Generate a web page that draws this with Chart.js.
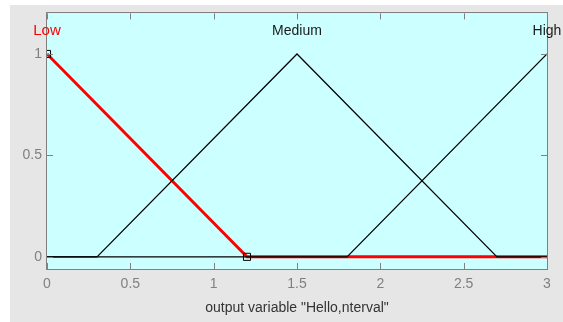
<!DOCTYPE html>
<html>
<head>
<meta charset="utf-8">
<script src="https://cdn.jsdelivr.net/npm/chart.js@4"></script>
<style>
html,body{margin:0;padding:0;background:#fff;}
#wrap{width:563px;height:322px;position:relative;}
</style>
</head>
<body>
<div id="wrap"><canvas id="c" width="563" height="322"></canvas></div>
<script>
// ---- data ----
const mfNames = ["Low", "Medium", "High"];
const mfLabelX = [0, 1.5, 3];
const lowX = [0, 1.2, 3];
const lowY = [1, 0, 0];
const medX = [0, 0.3, 1.5, 2.7, 3];
const medY = [0, 0, 1, 0, 0];
const highX = [0, 1.8, 3];
const highY = [0, 0, 1];
const xTicks = [0, 0.5, 1, 1.5, 2, 2.5, 3];
const yTicks = [0, 0.5, 1];
const xTitle = 'output variable "Hello,nterval"';

const pts = (xs, ys) => xs.map((x, i) => ({x: x, y: ys[i]}));
const FONT = "'Liberation Sans', Arial, sans-serif";

const deco = {
  id: 'deco',
  beforeDraw(chart) {
    const ctx = chart.ctx, a = chart.chartArea;
    ctx.save();
    ctx.fillStyle = '#ffffff';
    ctx.fillRect(0, 0, chart.width, chart.height);
    ctx.fillStyle = '#e6e6e6';
    ctx.fillRect(10, 5, chart.width - 10, chart.height - 5);
    ctx.fillStyle = '#ccffff';
    ctx.fillRect(a.left, a.top, a.right - a.left, a.bottom - a.top);
    ctx.restore();
  },
  afterDraw(chart) {
    const ctx = chart.ctx, a = chart.chartArea;
    const xs = chart.scales.x, ys = chart.scales.y;
    ctx.save();
    ctx.strokeStyle = '#808080';
    ctx.lineWidth = 1;
    ctx.strokeRect(Math.round(a.left) - 0.5, Math.round(a.top) - 0.5,
                   Math.round(a.right - a.left) + 1, Math.round(a.bottom - a.top) + 1);
    ctx.beginPath();
    xTicks.forEach(v => {
      const px = Math.round(xs.getPixelForValue(v)) + 0.5;
      ctx.moveTo(px, a.bottom); ctx.lineTo(px, a.bottom - 6);
      ctx.moveTo(px, a.top); ctx.lineTo(px, a.top + 6);
    });
    yTicks.forEach(v => {
      const py = Math.round(ys.getPixelForValue(v)) + 0.5;
      ctx.moveTo(a.left, py); ctx.lineTo(a.left + 6, py);
      ctx.moveTo(a.right, py); ctx.lineTo(a.right - 6, py);
    });
    ctx.stroke();
    ctx.textAlign = 'center';
    ctx.textBaseline = 'middle';
    mfNames.forEach((n, i) => {
      ctx.font = (i === 0 ? '15px ' : '14px ') + FONT;
      ctx.fillStyle = i === 0 ? '#ff0000' : '#1a1a1a';
      ctx.fillText(n, xs.getPixelForValue(mfLabelX[i]), ys.getPixelForValue(1.115));
    });
    ctx.restore();
  }
};

new Chart(document.getElementById('c'), {
  type: 'line',
  data: {
    datasets: [
      {label: 'Medium', data: pts(medX, medY), borderColor: '#000000', borderWidth: 1.2, pointRadius: 0, order: 0, tension: 0},
      {label: 'High', data: pts(highX, highY), borderColor: '#000000', borderWidth: 1.2, pointRadius: 0, order: 0, tension: 0},
      {label: 'Low', data: pts(lowX, lowY), borderColor: '#ff0000', borderWidth: 3, tension: 0, order: 5,
       clip: 0,
       pointStyle: 'rect', pointRadius: [5, 5, 0], pointBorderColor: '#000000',
       pointBackgroundColor: 'rgba(0,0,0,0)', pointBorderWidth: 1}
    ]
  },
  options: {
    responsive: false,
    animation: false,
    devicePixelRatio: 1,
    layout: {padding: {left: 0, top: 10, right: 16, bottom: 0}},
    plugins: {legend: {display: false}, tooltip: {enabled: false}},
    scales: {
      x: {
        type: 'linear', min: 0, max: 3,
        afterBuildTicks: s => { s.ticks = xTicks.map(v => ({value: v})); },
        afterFit: s => { s.height = 53; },
        grid: {display: false, drawTicks: false},
        border: {display: false},
        ticks: {color: '#808080', font: {size: 14, family: FONT}, padding: 7, maxRotation: 0,
                callback: v => String(v)},
        title: {display: true, text: xTitle, color: '#333333', font: {size: 14, family: FONT}, padding: {top: 4, bottom: 5}}
      },
      y: {
        type: 'linear', min: -0.06, max: 1.2,
        afterBuildTicks: s => { s.ticks = yTicks.map(v => ({value: v})); },
        afterFit: s => { s.width = 47; },
        grid: {display: false, drawTicks: false},
        border: {display: false},
        ticks: {color: '#808080', font: {size: 14, family: FONT}, padding: 5,
                callback: v => String(v)}
      }
    }
  },
  plugins: [deco]
});
</script>
</body>
</html>
